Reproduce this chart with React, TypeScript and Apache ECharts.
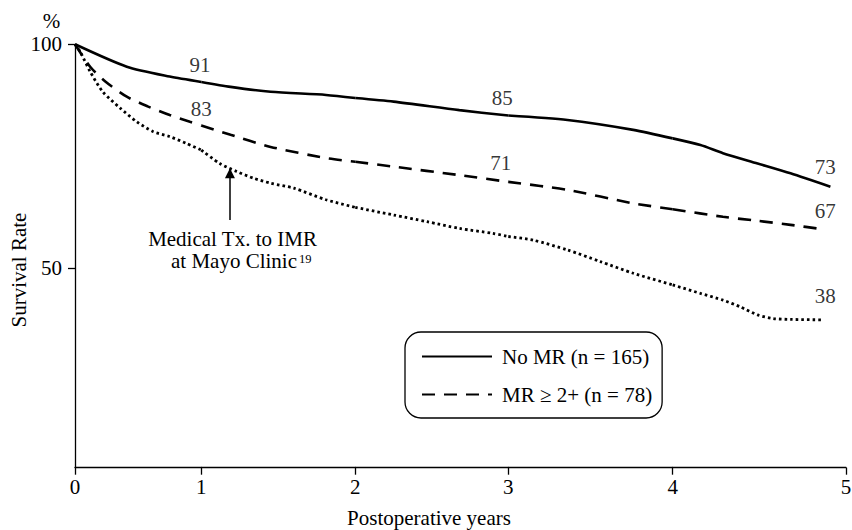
import React, { useEffect, useRef } from 'react';
import * as echarts from 'echarts';

// ---- data ----
const xTickYears = [0, 1, 2, 3, 4, 5];
const yTickValues = [50, 100];

const noMRName = 'No MR (n = 165)';
const yearsNoMR = [0, 0.41, 0.75, 1.0, 1.19, 1.45, 1.81, 2.0, 2.25, 2.68, 3.0, 3.36, 3.76, 4.0, 4.16, 4.29, 4.49, 4.68, 4.91];
const survNoMR = [100, 95.0, 92.8, 91.6, 90.5, 89.4, 88.7, 88.0, 87.2, 85.3, 84.1, 83.1, 80.9, 79.0, 77.5, 75.7, 73.4, 71.2, 68.2];

const mrName = 'MR \u2265 2+ (n = 78)';
const yearsMR = [0, 0.12, 0.24, 0.41, 0.58, 0.75, 0.91, 1.0, 1.19, 1.45, 1.81, 2.0, 2.25, 2.68, 3.0, 3.36, 3.76, 4.0, 4.29, 4.49, 4.68, 4.87];
const survMR = [100, 95.0, 91.7, 88.3, 86.1, 84.2, 82.7, 81.9, 79.8, 77.1, 74.6, 73.8, 72.7, 70.8, 69.3, 67.5, 64.5, 63.2, 61.5, 60.6, 59.7, 58.7];

const medName = 'Medical Tx. to IMR at Mayo Clinic';
const yearsMed = [0, 0.04, 0.12, 0.22, 0.36, 0.49, 0.62, 0.75, 0.88, 1.0, 1.12, 1.23, 1.34, 1.45, 1.6, 1.81, 2.0, 2.25, 2.47, 2.68, 2.9, 3.0, 3.15, 3.36, 3.56, 3.76, 4.0, 4.16, 4.29, 4.39, 4.49, 4.58, 4.68, 4.87];
const survMed = [100, 98.4, 93.9, 89.4, 85.7, 82.7, 80.5, 79.4, 77.9, 76.4, 73.4, 71.6, 70.1, 69.0, 67.9, 65.3, 63.6, 61.9, 60.4, 58.9, 57.8, 57.1, 56.3, 54.1, 51.5, 48.9, 46.3, 44.4, 42.9, 41.4, 39.6, 38.8, 38.6, 38.5];

const labelTexts = ['91', '83', '85', '71', '73', '67', '38'];
const labelYears = [0.99, 1.0, 2.96, 2.95, 4.88, 4.88, 4.88];
const labelValues = [95.4, 85.6, 88.0, 73.4, 72.7, 62.9, 43.9];

const arrowYear = 1.186;
const arrowFrom = 60.8;
const arrowTo = 71.2;

// ---- layout (the original axis is drawn with unequal year spacing) ----
const AXIS_PX = [75, 201.3, 355.3, 508.3, 672.7, 846];
const PLOT_TOP = 44.3;
const PLOT_BOTTOM = 467.7;
const Y_MIN = 5.5;
const Y_MAX = 100;
const FONT = "'Liberation Serif', 'Times New Roman', serif";
const BLACK = '#000';

function segment(xs: number[], ys: number[], i: number) {
  const out: number[][] = [];
  for (let k = 0; k < xs.length; k++) {
    if (xs[k] >= i - 1e-9 && xs[k] <= i + 1 + 1e-9) out.push([xs[k], ys[k]]);
  }
  return out;
}

function gridOf(x: number) {
  return Math.max(0, Math.min(4, Math.floor(x)));
}

export default function App() {
  const ref = useRef<HTMLDivElement>(null);

  useEffect(() => {
    if (!ref.current) return;
    const chart = echarts.init(ref.current, undefined, { renderer: 'svg' });
    const nGrids = xTickYears.length - 1;

    const grids: any[] = [];
    const xAxes: any[] = [];
    const yAxes: any[] = [];
    for (let i = 0; i < nGrids; i++) {
      grids.push({
        left: AXIS_PX[i],
        width: AXIS_PX[i + 1] - AXIS_PX[i],
        top: PLOT_TOP,
        height: PLOT_BOTTOM - PLOT_TOP,
        containLabel: false,
        outerBoundsMode: 'none',
      });
      const tickVals = i === nGrids - 1 ? [xTickYears[i], xTickYears[i + 1]] : [xTickYears[i]];
      xAxes.push({
        type: 'value',
        gridIndex: i,
        min: xTickYears[i],
        max: xTickYears[i + 1],
        axisLine: { show: true, onZero: false, lineStyle: { color: BLACK, width: 1.3 } },
        axisTick: { show: true, length: 7, inside: false, customValues: tickVals, lineStyle: { color: BLACK, width: 1.3 } },
        axisLabel: { show: true, customValues: tickVals, fontSize: 21, fontFamily: FONT, color: BLACK, margin: 9 },
        splitLine: { show: false },
      });
      yAxes.push({
        type: 'value',
        gridIndex: i,
        min: Y_MIN,
        max: Y_MAX,
        show: i === 0,
        axisLine: { show: i === 0, onZero: false, lineStyle: { color: BLACK, width: 1.3 } },
        axisTick: { show: i === 0, length: 7, inside: false, customValues: yTickValues, lineStyle: { color: BLACK, width: 1.3 } },
        axisLabel: { show: i === 0, customValues: yTickValues, fontSize: 21, fontFamily: FONT, color: BLACK, margin: 13 },
        splitLine: { show: false },
      });
    }

    const series: any[] = [];
    const curves = [
      { name: noMRName, xs: yearsNoMR, ys: survNoMR, lineStyle: { color: BLACK, width: 2.6, type: 'solid' } },
      { name: mrName, xs: yearsMR, ys: survMR, lineStyle: { color: BLACK, width: 2.6, type: [13, 9] } },
      { name: medName, xs: yearsMed, ys: survMed, lineStyle: { color: BLACK, width: 2.8, type: [2.6, 3], cap: 'butt' } },
    ];
    curves.forEach((c, ci) => {
      for (let i = 0; i < nGrids; i++) {
        const s: any = {
          type: 'line',
          name: c.name,
          xAxisIndex: i,
          yAxisIndex: i,
          data: segment(c.xs, c.ys, i),
          symbol: 'none',
          smooth: 0.25,
          color: BLACK,
          lineStyle: c.lineStyle,
          silent: true,
          z: 3,
        };
        if (ci === 2 && i === gridOf(arrowYear)) {
          s.markLine = {
            silent: true,
            symbol: ['none', 'triangle'],
            symbolSize: [10, 10],
            label: { show: false },
            lineStyle: { color: BLACK, width: 1.5, type: 'solid' },
            data: [[{ coord: [arrowYear, arrowFrom] }, { coord: [arrowYear, arrowTo] }]],
          };
        }
        series.push(s);
      }
    });

    labelTexts.forEach((t, k) => {
      const g = gridOf(labelYears[k]);
      series.push({
        type: 'scatter',
        name: 'label-' + t,
        xAxisIndex: g,
        yAxisIndex: g,
        symbolSize: 1,
        itemStyle: { color: 'rgba(0,0,0,0)' },
        silent: true,
        data: [[labelYears[k], labelValues[k]]],
        label: {
          show: true,
          position: 'inside',
          formatter: t,
          fontSize: 21,
          fontFamily: FONT,
          color: BLACK,
        },
      });
    });

    chart.setOption({
      animation: false,
      backgroundColor: '#fff',
      grid: grids,
      xAxis: xAxes,
      yAxis: yAxes,
      series,
      legend: {
        data: [noMRName, mrName],
        orient: 'vertical',
        left: 405,
        top: 332,
        itemWidth: 70,
        itemHeight: 14,
        itemGap: 17,
        padding: [14, 10, 13, 16],
        borderColor: BLACK,
        borderWidth: 1.3,
        borderRadius: 16,
        selectedMode: false,
        itemStyle: { color: 'rgba(0,0,0,0)', borderWidth: 0, opacity: 0 },
        textStyle: { fontSize: 21, fontFamily: FONT, color: BLACK, padding: [0, 0, 0, 5] },
      },
      graphic: [
        {
          type: 'text',
          x: 51.5,
          y: 21,
          style: { text: '%', fontSize: 21, fontFamily: FONT, fill: BLACK, align: 'center', verticalAlign: 'middle' },
        },
        {
          type: 'text',
          x: 18.7,
          y: 270,
          rotation: Math.PI / 2,
          style: { text: 'Survival Rate', fontSize: 21, fontFamily: FONT, fill: BLACK, align: 'center', verticalAlign: 'middle' },
        },
        {
          type: 'text',
          x: 429,
          y: 518,
          style: { text: 'Postoperative years', fontSize: 21, fontFamily: FONT, fill: BLACK, align: 'center', verticalAlign: 'middle' },
        },
        {
          type: 'text',
          x: 232.5,
          y: 239,
          style: { text: 'Medical Tx. to IMR', fontSize: 21, fontFamily: FONT, fill: BLACK, align: 'center', verticalAlign: 'middle' },
        },
        {
          type: 'text',
          x: 234,
          y: 261,
          style: { text: 'at Mayo Clinic', fontSize: 21, fontFamily: FONT, fill: BLACK, align: 'center', verticalAlign: 'middle' },
        },
        {
          type: 'text',
          x: 299,
          y: 258.5,
          style: { text: '19', fontSize: 12.5, fontFamily: FONT, fill: BLACK, align: 'left', verticalAlign: 'middle' },
        },
      ],
    });

    return () => chart.dispose();
  }, []);

  return (
    <div
      ref={ref}
      style={{ position: 'fixed', left: 0, top: 0, width: 852, height: 530, background: '#fff' }}
    />
  );
}
